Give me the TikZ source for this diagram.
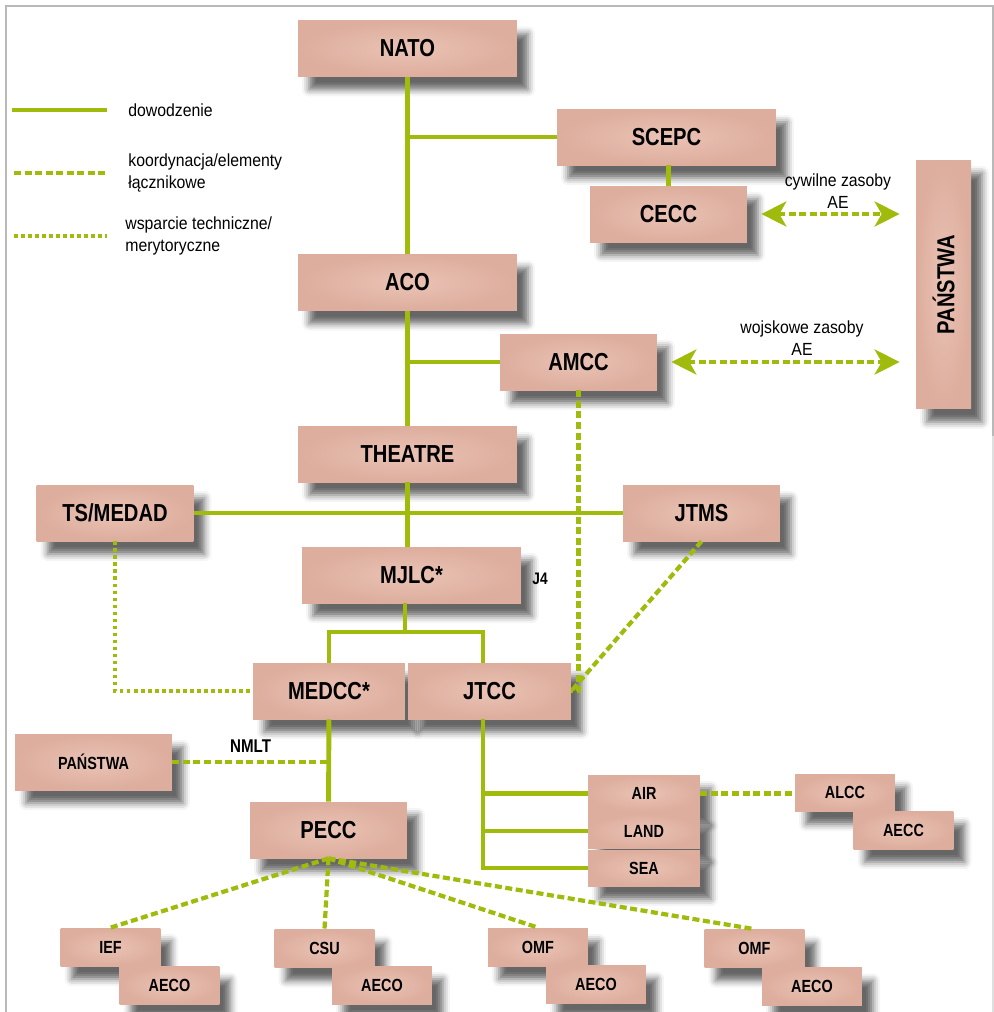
\documentclass[tikz,border=0pt]{standalone}
\usepackage{fontspec}
\setmainfont{Liberation Sans}
\newfontfamily\boxfont[FakeStretch=0.82]{Liberation Sans}
\newfontfamily\legfont[FakeStretch=0.9]{Liberation Sans}
\usetikzlibrary{arrows.meta, shadows.blur}
\definecolor{boxfill}{RGB}{221,173,157}
\definecolor{boxlight}{RGB}{234,195,181}
\definecolor{natogreen}{RGB}{160,187,12}

\begin{document}
\begin{tikzpicture}[x=0.02cm, y=-0.02cm]
    \tikzstyle{unit}=[rectangle, inner sep=0pt, inner color=boxlight, outer color=boxfill, font=\boxfont\bfseries\fontsize{14}{16}\selectfont, blur shadow={shadow xshift=0.22cm, shadow yshift=-0.26cm, shadow blur radius=0.14cm, shadow opacity=60}]
    \tikzstyle{big}=[unit, minimum width=4.38cm, minimum height=1.12cm]
    \tikzstyle{mid}=[unit, minimum width=3.14cm, minimum height=1.12cm]
    \tikzstyle{small}=[unit, minimum width=2cm, minimum height=0.76cm, font=\boxfont\bfseries\fontsize{10}{12}\selectfont]
    \tikzstyle{cmd}=[natogreen, line width=2.8pt]
    \tikzstyle{coord}=[natogreen, line width=2.4pt, dash pattern=on 4pt off 2pt]
    \tikzstyle{support}=[natogreen, line width=2pt, dash pattern=on 2pt off 2pt]
    \tikzstyle{flow}=[coord, {Stealth[length=0.5cm, width=0.5cm, inset=0.14cm]}-{Stealth[length=0.5cm, width=0.5cm, inset=0.14cm]}, shorten <=0.28cm, shorten >=0.32cm]
    \tikzstyle{legend}=[font=\legfont\fontsize{10}{12.5}\selectfont, align=left, inner sep=0pt]

    \useasboundingbox (0,0) rectangle (994,1012);
    \draw[gray!55, line width=0.8pt] (6,1012) -- (6,6) -- (993,6) -- (993,436);
    \draw[gray!25, line width=0.8pt] (993,436) -- (993,1012);

    \node[big] (nato) at (407.5,48.5) {NATO};
    \node[big] (scepc) at (666.5,137) {SCEPC};
    \node[mid] (cecc) at (668.5,214) {CECC};
    \node[unit, minimum width=1.1cm, minimum height=4.98cm] (panstwa) at (943.5,284.5) {\rotatebox{90}{PAŃSTWA}};
    \node[big] (aco) at (407.5,282.5) {ACO};
    \node[mid] (amcc) at (578.5,362) {AMCC};
    \node[big] (theatre) at (407.5,454) {THEATRE};
    \node[mid] (tsmedad) at (115,513) {TS/MEDAD};
    \node[mid] (jtms) at (701.5,513) {JTMS};
    \node[big] (mjlc) at (411.5,575) {MJLC*};
    \node[font=\boxfont\bfseries\fontsize{9.5}{11}\selectfont] (j4) at (540,579) {J4};
    \node[mid, minimum width=3.04cm] (medcc) at (329,691) {MEDCC*};
    \node[mid, minimum width=3.26cm] (jtcc) at (489.5,691) {JTCC};
    \node[mid, font=\boxfont\bfseries\fontsize{10}{12}\selectfont] (panstwal) at (93.5,762) {PAŃSTWA};
    \node[mid] (pecc) at (328.5,830) {PECC};
    \node[small, minimum width=2.24cm, minimum height=0.74cm] (air) at (644,793.5) {AIR};
    \node[small, minimum width=2.24cm, minimum height=0.70cm] (land) at (644,831) {LAND};
    \node[small, minimum width=2.24cm, minimum height=0.72cm] (sea) at (644,868) {SEA};
    \node[small, minimum height=0.74cm] (alcc) at (845,792.5) {ALCC};
    \node[small] (aecc) at (903.5,830) {AECC};
    \node[small] (ief) at (110.5,947) {IEF};
    \node[small] (aeco1) at (169.5,985.5) {AECO};
    \node[small] (csu) at (324.5,948.5) {CSU};
    \node[small] (aeco2) at (382,985) {AECO};
    \node[small] (omfa) at (538,947) {OMF};
    \node[small] (aeco3) at (596,984.5) {AECO};
    \node[small] (omfb) at (754.5,948.5) {OMF};
    \node[small] (aeco4) at (812,986.5) {AECO};

    \coordinate (fork) at (405,632);
    \coordinate (jtrunk) at (483,719);

    \draw[cmd] (nato) -- (aco) -- (theatre);
    \draw[cmd] (theatre) -- (theatre |- mjlc.north);
    \draw[cmd] (scepc.west) -- (scepc.west -| nato.south);
    \draw[cmd] (scepc.south -| cecc) -- (cecc.north);
    \draw[cmd] (amcc.west) -- (amcc.west -| aco.south);
    \draw[cmd] (tsmedad) -- (jtms);
    \draw[cmd] (mjlc.south -| fork) -- (fork);
    \draw[cmd] (medcc.north) |- (fork) -| (jtcc.north -| jtrunk);
    \draw[cmd] (medcc) -- (pecc);
    \draw[cmd] (jtrunk) |- (sea.west);
    \draw[cmd] (jtrunk |- air.west) -- (air.west);
    \draw[cmd] (jtrunk |- land.west) -- (land.west);

    \draw[flow] (cecc.east) -- (cecc.east -| panstwa.west);
    \draw[flow] (amcc.east) -- (amcc.east -| panstwa.west);
    \node[legend, align=center] (civil) at (838,191) {cywilne zasoby\\AE};
    \node[legend, align=center] (military) at (802,338) {wojskowe zasoby\\AE};

    \draw[coord] (amcc.south) |- (jtcc.east);
    \draw[coord] (jtms.south) -- (jtcc.east);
    \draw[coord] (air.east) -- (air.east -| alcc.west);
    \draw[coord] (panstwal.east) -- (panstwal.east -| medcc.south) node[midway, above=4pt, inner sep=0pt, black, font=\boxfont\bfseries\fontsize{10.5}{12}\selectfont] (nmlt) {NMLT};
    \foreach \t in {ief, csu, omfa, omfb}
      \draw[coord] (pecc.south) -- (\t.north);
    \draw[support] (tsmedad.south) |- (medcc.west);

    \coordinate (lcmd) at (12,110);
    \coordinate (lcoord) at (14,173);
    \coordinate (lsupport) at (14,236);
    \draw[cmd] (lcmd) -- ++(95,0);
    \draw[coord] (lcoord) -- ++(93,0);
    \draw[support] (lsupport) -- ++(93,0);
    \node[legend, anchor=west] (lcmdtxt) at (128,110) {dowodzenie};
    \node[legend, anchor=west] (lcoordtxt) at (128,173) {koordynacja/elementy\\łącznikowe};
    \node[legend, anchor=west] (lsupporttxt) at (125,236) {wsparcie techniczne/\\merytoryczne};
\end{tikzpicture}
\end{document}
